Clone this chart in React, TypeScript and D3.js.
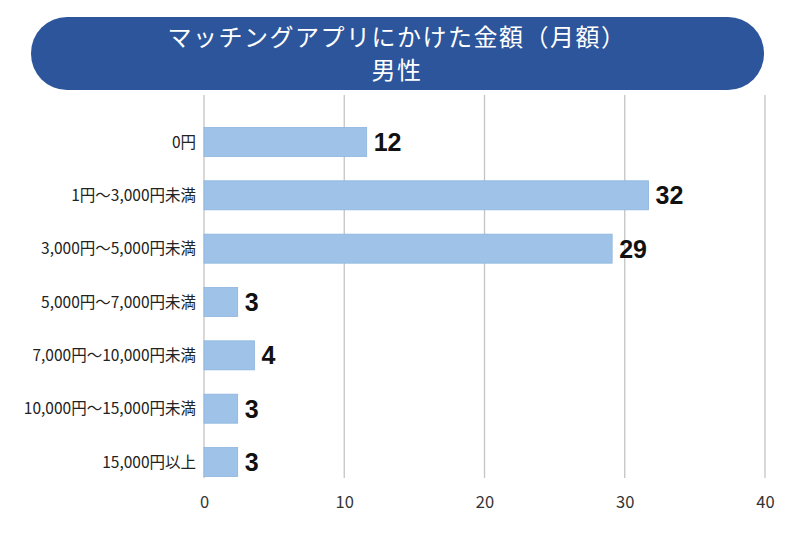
import { useEffect, useRef } from "react";
import * as d3 from "d3";

const categories = [
  "0円",
  "1円～3,000円未満",
  "3,000円～5,000円未満",
  "5,000円～7,000円未満",
  "7,000円～10,000円未満",
  "10,000円～15,000円未満",
  "15,000円以上",
];
// bar lengths as drawn in the picture
const values = [11.6, 31.7, 29.1, 2.4, 3.6, 2.4, 2.4];
// numbers printed next to the bars
const valueLabels = ["12", "32", "29", "3", "4", "3", "3"];
const xTicks = [0, 10, 20, 30, 40];
const titleLines = ["マッチングアプリにかけた金額（月額）", "男性"];

export default function App() {
  const ref = useRef<SVGSVGElement>(null);

  useEffect(() => {
    const svg = d3.select(ref.current);
    svg.selectAll("*").remove();

    const jp = "'Noto Sans CJK JP', 'Noto Sans', sans-serif";
    const x = d3.scaleLinear().domain([0, 40]).range([204, 765]);
    const y = d3
      .scaleBand()
      .domain(categories)
      .range([115.3, 488.7])
      .paddingInner(0.456)
      .paddingOuter(0.228);

    // grid
    svg
      .append("g")
      .selectAll("line")
      .data(xTicks)
      .join("line")
      .attr("x1", (d) => x(d))
      .attr("x2", (d) => x(d))
      .attr("y1", 95)
      .attr("y2", 478)
      .attr("stroke", "#c4c4c4")
      .attr("stroke-width", 1.3);

    // bars
    svg
      .append("g")
      .selectAll("rect")
      .data(values)
      .join("rect")
      .attr("x", x(0))
      .attr("y", (d, i) => y(categories[i])!)
      .attr("width", (d) => x(d) - x(0))
      .attr("height", y.bandwidth())
      .attr("fill", "#9fc3e8")
      .attr("stroke", "#8db4de")
      .attr("stroke-width", 0.8);

    // value labels
    svg
      .append("g")
      .selectAll("text")
      .data(values)
      .join("text")
      .attr("x", (d) => x(d) + 7)
      .attr("y", (d, i) => y(categories[i])! + y.bandwidth() / 2)
      .attr("dy", "0.36em")
      .attr("font-family", "'Liberation Sans', Arial, sans-serif")
      .attr("font-weight", "bold")
      .attr("font-size", 25)
      .attr("fill", "#111")
      .text((d, i) => valueLabels[i]);

    // category labels
    svg
      .append("g")
      .selectAll("text")
      .data(categories)
      .join("text")
      .attr("x", 196)
      .attr("y", (d) => y(d)! + y.bandwidth() / 2)
      .attr("dy", "0.36em")
      .attr("text-anchor", "end")
      .attr("font-family", jp)
      .attr("font-size", 15.5)
      .attr("fill", "#222")
      .text((d) => d);

    // x axis labels
    const xAxis = svg
      .append("g")
      .attr("transform", "translate(0,478)")
      .call(d3.axisBottom(x).tickValues(xTicks).tickSize(0).tickPadding(18));
    xAxis.select(".domain").remove();
    xAxis
      .selectAll("text")
      .attr("font-family", jp)
      .attr("font-size", 16.5)
      .attr("fill", "#333");

    // title pill
    svg
      .append("rect")
      .attr("x", 31)
      .attr("y", 17)
      .attr("width", 733)
      .attr("height", 73)
      .attr("rx", 36)
      .attr("fill", "#2c559b");

    svg
      .append("g")
      .selectAll("text")
      .data(titleLines)
      .join("text")
      .attr("x", 397)
      .attr("y", (d, i) => 46 + i * 33)
      .attr("text-anchor", "middle")
      .attr("font-family", jp)
      .attr("font-size", 24)
      .attr("letter-spacing", 1.5)
      .attr("fill", "#fff")
      .text((d) => d);
  }, []);

  return (
    <svg
      ref={ref}
      width={800}
      height={533}
      style={{ position: "absolute", left: 0, top: 0, background: "#fff" }}
    />
  );
}
